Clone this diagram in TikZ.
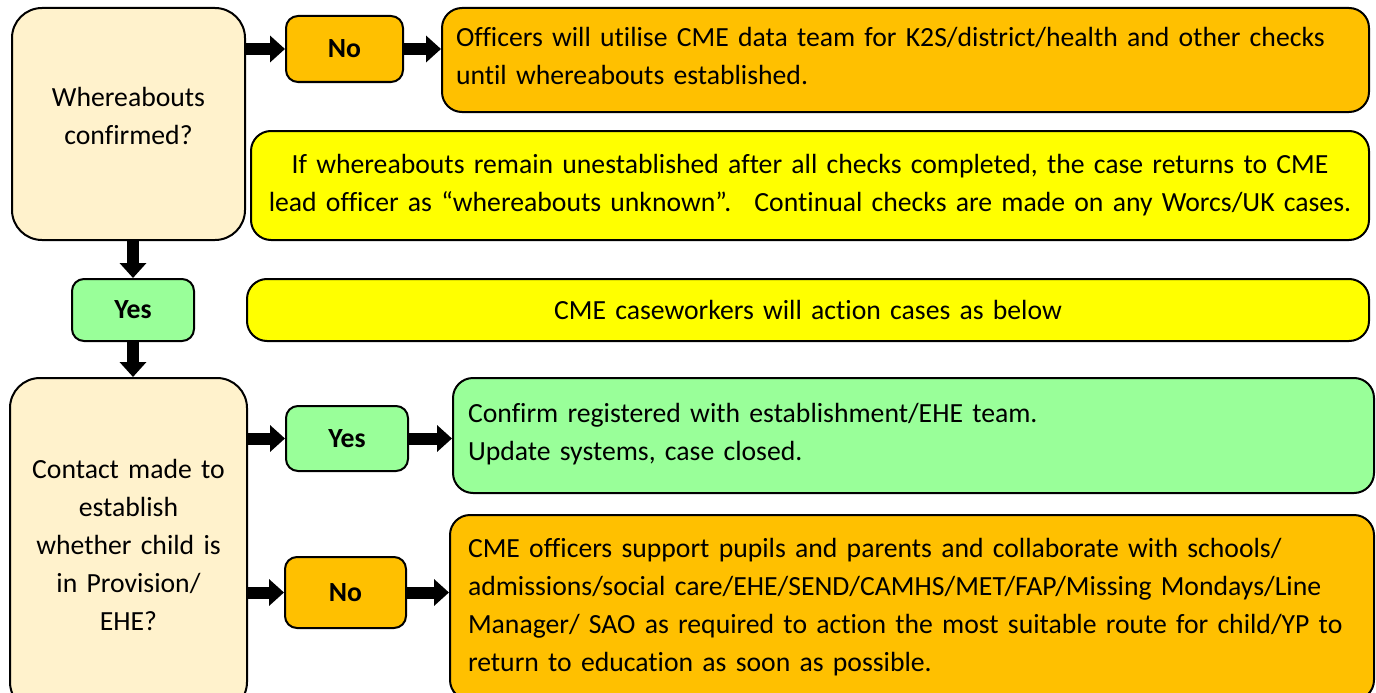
\documentclass[tikz,border=0pt]{standalone}
\usepackage{fontspec}
\setmainfont[Ligatures=NoCommon]{Carlito}
\usetikzlibrary{positioning,calc,arrows.meta}

\definecolor{beige}{HTML}{FFF2CC}
\definecolor{amber}{HTML}{FFC000}
\definecolor{lemon}{HTML}{FFFF00}
\definecolor{mint}{HTML}{99FF99}

\begin{document}
\begin{tikzpicture}[
    x=1pt,y=-1pt,
    box/.style={draw,line width=2pt,inner sep=0pt,
      font=\fontsize{27.7}{38}\selectfont},
    question/.style={box,fill=beige,rounded corners=30pt,align=center},
    answer/.style={box,rounded corners=12pt,align=center,
      font=\fontsize{27.7}{38}\selectfont\bfseries},
    note/.style={box,rounded corners=20pt},
    flow/.style={line width=12pt,-{Triangle[length=15pt,width=26pt]}},
  ]
  \useasboundingbox (0,0) rectangle (1376,693);

  % left column
  \node[question,minimum width=233pt,minimum height=232pt,text width=233pt]
    (where) at (128.5,124) {Whereabouts\\confirmed?\\[-22pt]\mbox{}};
  \node[answer,fill=mint,minimum width=122pt,minimum height=62pt]
    (yes1) at (133,310) {Yes};
  \node[question,minimum width=237pt,minimum height=334pt,text width=237pt]
    (contact) at (128.5,545)
    {Contact made to\\establish\\whether child is\\in Provision/\\EHE?};

  % answers
  \node[answer,fill=amber,minimum width=117pt,minimum height=66pt]
    (no1) at (344.5,49) {No};
  \node[answer,fill=mint,minimum width=122pt,minimum height=65pt]
    (yes2) at (347,438.5) {Yes};
  \node[answer,fill=amber,minimum width=121pt,minimum height=71pt]
    (no2) at (345.5,592.5) {No};

  % notes
  \node[note,fill=amber,minimum height=104pt,text width=899pt,inner xsep=14pt,
    align=left] (checks) at (905.5,60)
    {Officers will utilise CME data team for K2S/district/health and other checks\\
     until whereabouts established.\\[-30pt]\mbox{}};
  \node[note,fill=lemon,minimum height=109pt,text width=1118pt,align=center]
    (unknown) at (810,185.5)
    {If whereabouts remain unestablished after all checks completed, the case returns to CME\\
     lead officer as “whereabouts unknown”.~ Continual checks are made on any Worcs/UK cases.};
  \node[note,fill=lemon,minimum height=62pt,text width=1122pt,align=center]
    (action) at (808,310) {CME caseworkers will action cases as below};
  \node[note,fill=mint,minimum height=115pt,text width=891pt,inner xsep=15pt,
    align=left] (closed) at (913.5,435.5)
    {Confirm registered with establishment/EHE team.\\
     Update systems, case closed.\\[-30pt]\mbox{}};
  \node[note,fill=amber,minimum height=185pt,text width=888pt,inner xsep=18pt,
    align=left] (support) at (912,607.5)
    {CME officers support pupils and parents and collaborate with schools/\\
     admissions/social care/EHE/SEND/CAMHS/MET/FAP/Missing Mondays/Line\\
     Manager/ SAO as required to action the most suitable route for child/YP to\\
     return to education as soon as possible.};

  \path[flow]
    (no1.west -| where.east)     edge (no1.west)
    (no1.east)                   edge (no1.east -| checks.west)
    (yes1.north |- where.south)  edge (yes1.north)
    (yes1.south)                 edge (yes1.south |- contact.north)
    (yes2.west -| contact.east)  edge (yes2.west)
    (yes2.east)                  edge (yes2.east -| closed.west)
    (no2.west -| contact.east)   edge (no2.west)
    (no2.east)                   edge (no2.east -| support.west);
\end{tikzpicture}
\end{document}
